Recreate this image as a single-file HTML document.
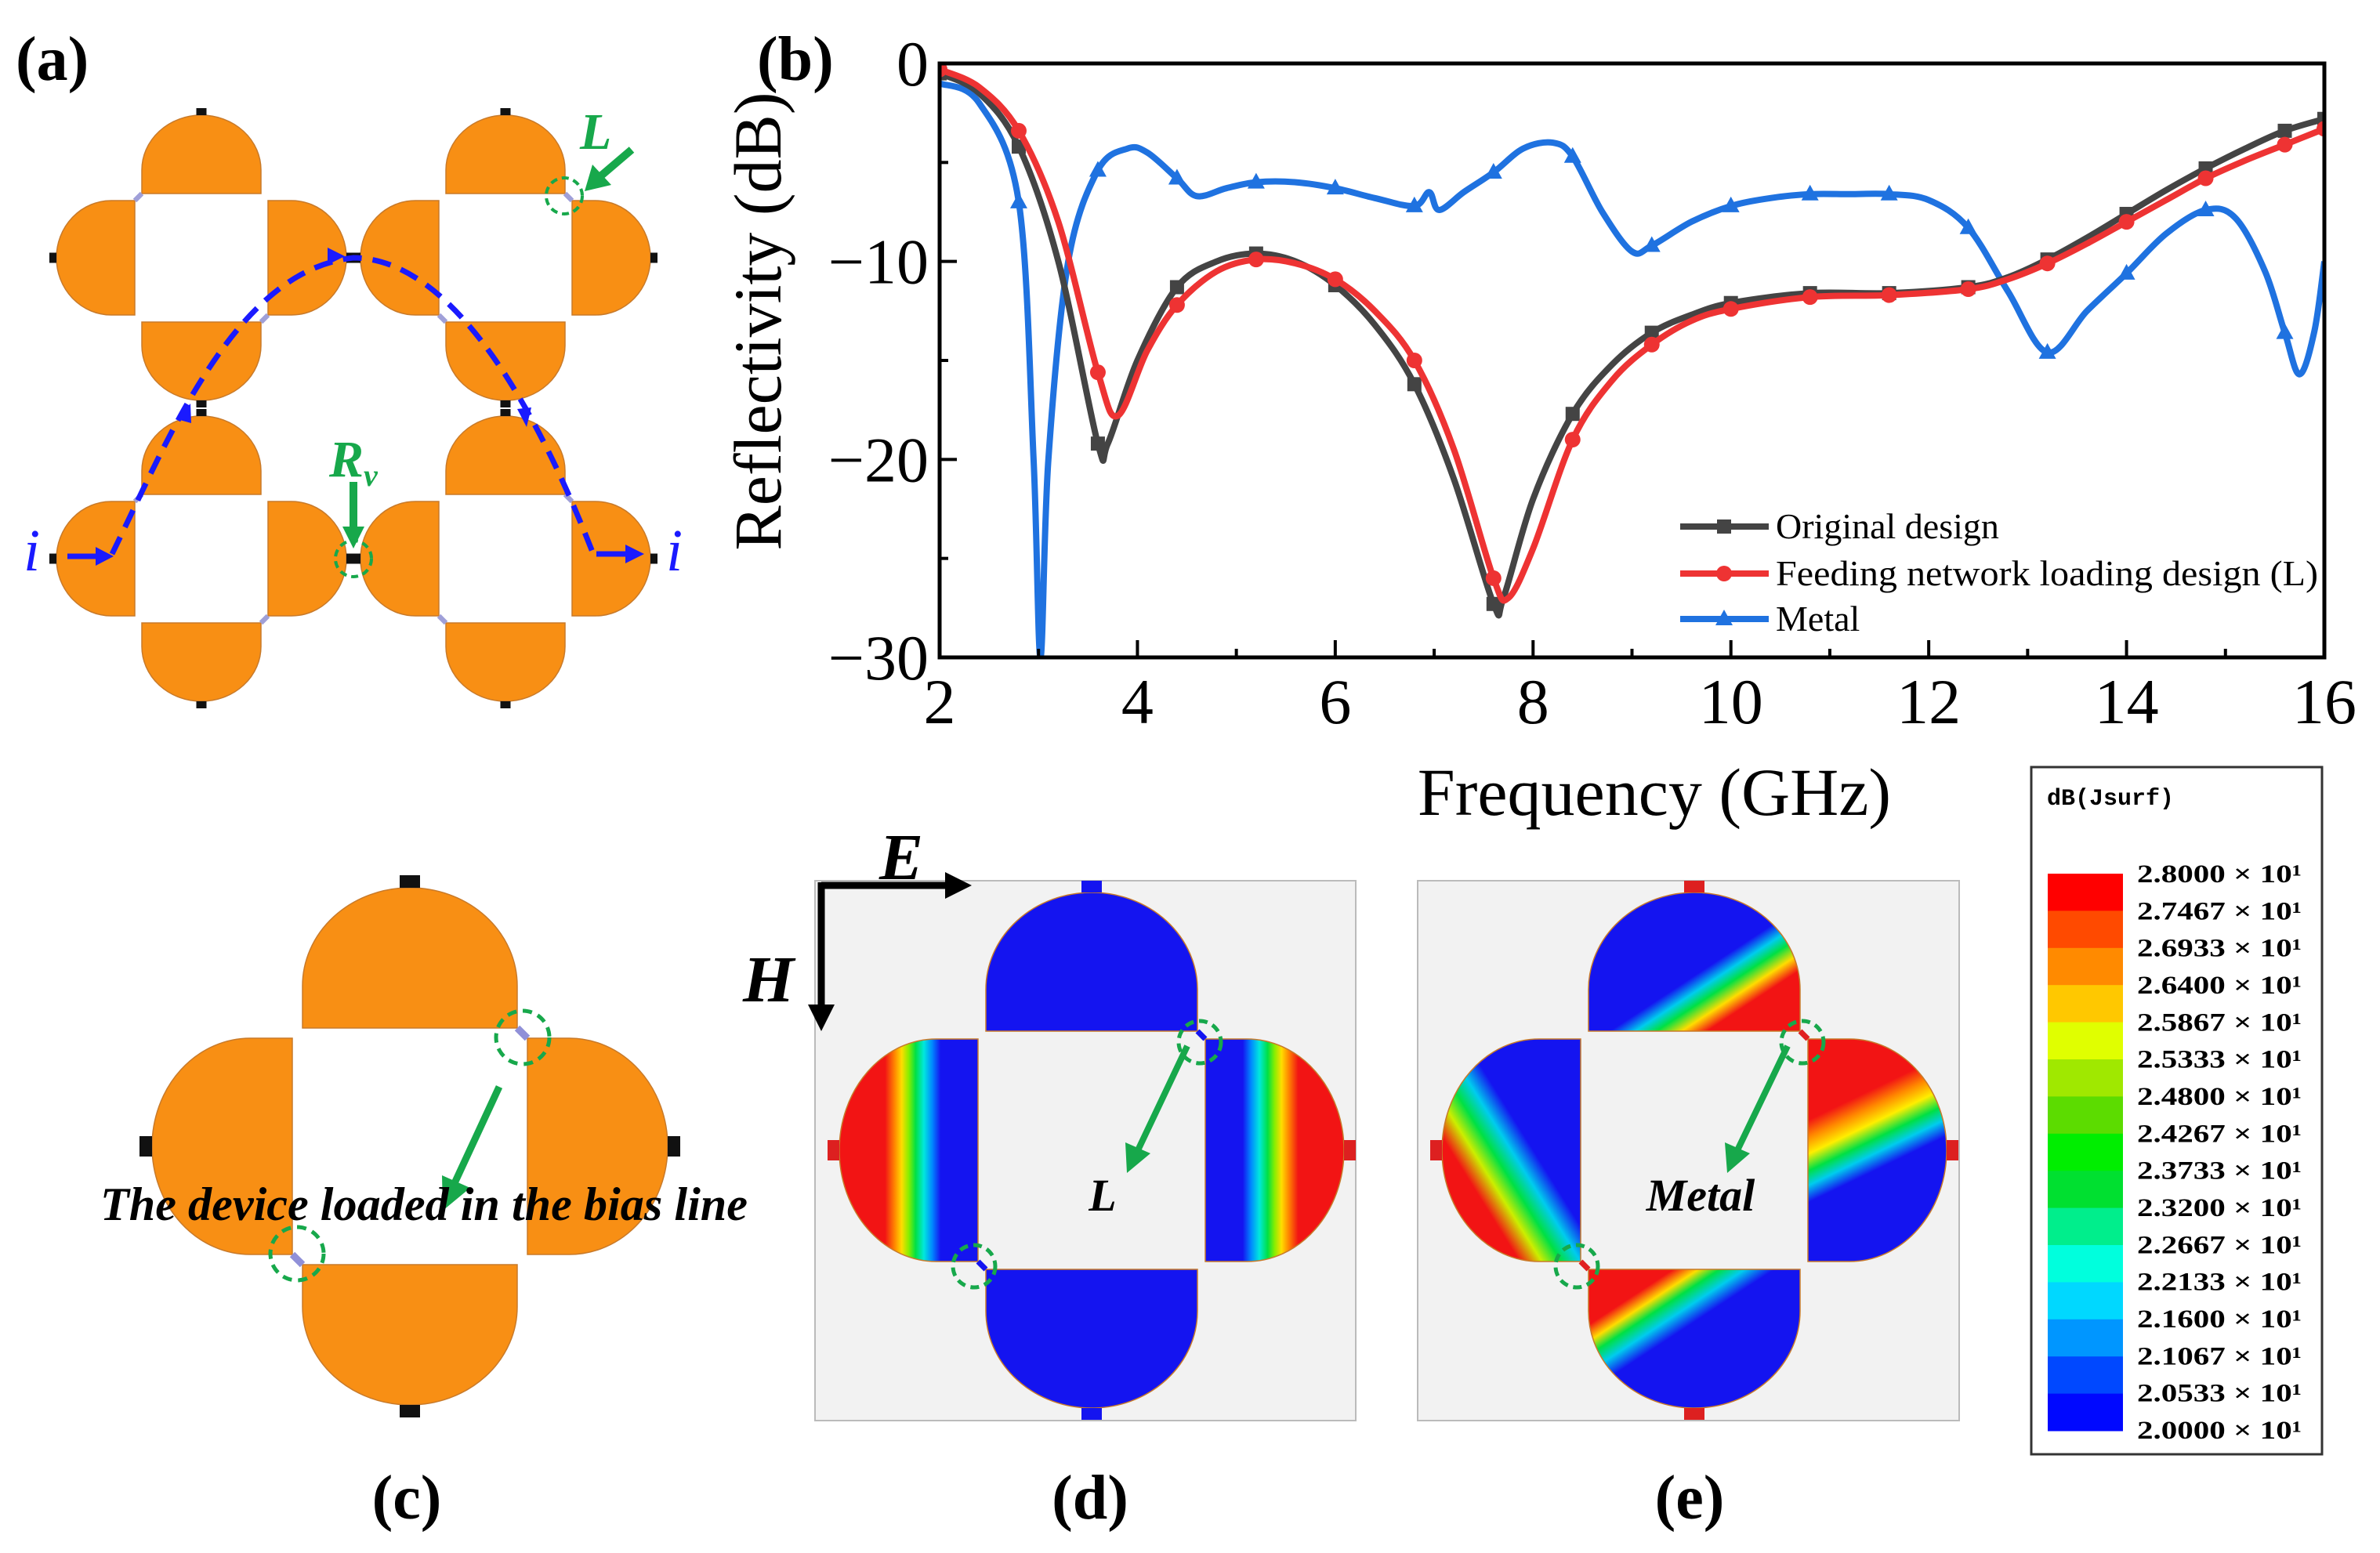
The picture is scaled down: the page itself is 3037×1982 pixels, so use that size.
<!DOCTYPE html>
<html><head><meta charset="utf-8">
<style>
html,body{margin:0;padding:0;background:#fff;}
svg{display:block;}
text{font-family:"Liberation Serif","DejaVu Serif",serif;}
.mono{font-family:"Liberation Mono","DejaVu Sans Mono",monospace;}
</style></head>
<body>
<svg id="fig" width="3037" height="1982" viewBox="0 0 3037 1982" xmlns="http://www.w3.org/2000/svg">
<defs>
 <linearGradient id="gdl" x1="0" y1="0" x2="1" y2="0">
  <stop offset="0" stop-color="#f21414"/><stop offset="0.33" stop-color="#f21414"/><stop offset="0.40" stop-color="#ff8800"/><stop offset="0.45" stop-color="#ffdd00"/><stop offset="0.50" stop-color="#88ee00"/><stop offset="0.55" stop-color="#00e044"/><stop offset="0.61" stop-color="#00e8dd"/><stop offset="0.67" stop-color="#0088ff"/><stop offset="0.73" stop-color="#1414f0"/><stop offset="1" stop-color="#1414f0"/>
 </linearGradient>
 <linearGradient id="gdr" x1="1" y1="0" x2="0" y2="0">
  <stop offset="0" stop-color="#f21414"/><stop offset="0.33" stop-color="#f21414"/><stop offset="0.40" stop-color="#ff8800"/><stop offset="0.45" stop-color="#ffdd00"/><stop offset="0.50" stop-color="#88ee00"/><stop offset="0.55" stop-color="#00e044"/><stop offset="0.61" stop-color="#00e8dd"/><stop offset="0.67" stop-color="#0088ff"/><stop offset="0.73" stop-color="#1414f0"/><stop offset="1" stop-color="#1414f0"/>
 </linearGradient>
 <linearGradient id="get" x1="0" y1="0" x2="1" y2="1">
  <stop offset="0" stop-color="#1414f0"/><stop offset="0.55" stop-color="#1414f0"/><stop offset="0.61" stop-color="#00ccee"/><stop offset="0.66" stop-color="#00e044"/><stop offset="0.72" stop-color="#ffdd00"/><stop offset="0.78" stop-color="#f21414"/><stop offset="1" stop-color="#f21414"/>
 </linearGradient>
 <linearGradient id="gel" x1="1" y1="0" x2="0" y2="1">
  <stop offset="0" stop-color="#1414f0"/><stop offset="0.42" stop-color="#1414f0"/><stop offset="0.50" stop-color="#00ccee"/><stop offset="0.57" stop-color="#00e044"/><stop offset="0.64" stop-color="#ccee00"/><stop offset="0.72" stop-color="#f21414"/><stop offset="1" stop-color="#f21414"/>
 </linearGradient>
 <linearGradient id="ger" x1="0.2" y1="0" x2="0.5" y2="1">
  <stop offset="0" stop-color="#f21414"/><stop offset="0.28" stop-color="#f21414"/><stop offset="0.35" stop-color="#ff8800"/><stop offset="0.42" stop-color="#ffee00"/><stop offset="0.49" stop-color="#00e044"/><stop offset="0.55" stop-color="#00ccee"/><stop offset="0.62" stop-color="#1414f0"/><stop offset="1" stop-color="#1414f0"/>
 </linearGradient>
 <linearGradient id="geb" x1="0" y1="0" x2="1" y2="1">
  <stop offset="0" stop-color="#f21414"/><stop offset="0.2" stop-color="#f21414"/><stop offset="0.26" stop-color="#ffdd00"/><stop offset="0.31" stop-color="#00e044"/><stop offset="0.37" stop-color="#00ccee"/><stop offset="0.44" stop-color="#1414f0"/><stop offset="1" stop-color="#1414f0"/>
 </linearGradient>
</defs>

<!-- panel labels -->
<text x="20" y="102" font-size="80" font-weight="bold">(a)</text>
<text x="966" y="102" font-size="80" font-weight="bold">(b)</text>
<text x="519" y="1938" font-size="80" font-weight="bold" text-anchor="middle">(c)</text>
<text x="1391" y="1938" font-size="80" font-weight="bold" text-anchor="middle">(d)</text>
<text x="2156" y="1938" font-size="80" font-weight="bold" text-anchor="middle">(e)</text>

<g id="panelA"></g>
<g id="panelC"></g>
<rect x="1040" y="1124" width="690" height="689" fill="#f2f2f2" stroke="#bbb" stroke-width="2"/>
<rect x="1809" y="1124" width="691" height="689" fill="#f2f2f2" stroke="#bbb" stroke-width="2"/>
<g id="panelD"></g>
<g id="panelE"></g>

<!-- panel a annotations -->
<g>
 <path d="M143,707 C215,560 300,345 451,329 C590,330 700,560 757,707" fill="none" stroke="#1a1aff" stroke-width="7" stroke-dasharray="24 14"/>
 <line x1="86" y1="710" x2="128" y2="710" stroke="#1a1aff" stroke-width="7"/>
 <polygon points="145,710 122,698 122,722" fill="#1a1aff"/>
 <line x1="761" y1="707" x2="800" y2="707" stroke="#1a1aff" stroke-width="7"/>
 <polygon points="822,707 798,695 798,719" fill="#1a1aff"/>
 <polygon points="243,515 226,535 244,540" fill="#1a1aff"/>
 <polygon points="440,327 418,316 418,338" fill="#1a1aff"/>
 <polygon points="672,545 660,522 678,520" fill="#1a1aff"/>
</g>
<text x="30" y="728" font-size="76" font-style="italic" fill="#1a1aff">i</text>
<text x="850" y="728" font-size="76" font-style="italic" fill="#1a1aff">i</text>
<text x="740" y="190" font-size="66" font-style="italic" font-weight="bold" fill="#17a84b">L</text>
<g>
 <line x1="806" y1="191" x2="765" y2="226" stroke="#17a84b" stroke-width="10"/>
 <polygon points="746,244 756,210 780,236" fill="#17a84b"/>
</g>
<circle cx="720" cy="250" r="23" fill="none" stroke="#17a84b" stroke-width="4" stroke-dasharray="9 6"/>
<text x="420" y="608" font-size="66" font-style="italic" font-weight="bold" fill="#17a84b">R<tspan font-size="40" dy="12">v</tspan></text>
<g>
 <line x1="451" y1="615" x2="451" y2="676" stroke="#17a84b" stroke-width="10"/>
 <polygon points="437,672 465,672 451,700" fill="#17a84b"/>
</g>
<circle cx="451" cy="713" r="23" fill="none" stroke="#17a84b" stroke-width="4" stroke-dasharray="9 6"/>

<!-- panel c annotations -->
<g>
 <line x1="637" y1="1387" x2="580" y2="1510" stroke="#17a84b" stroke-width="9"/>
 <polygon points="565,1545 564,1500 600,1516" fill="#17a84b"/>
</g>
<circle cx="667" cy="1324" r="34" fill="none" stroke="#17a84b" stroke-width="5" stroke-dasharray="12 8"/>
<circle cx="379" cy="1600" r="34" fill="none" stroke="#17a84b" stroke-width="5" stroke-dasharray="12 8"/>
<text x="128" y="1557" font-size="60" font-style="italic" font-weight="bold" textLength="826" lengthAdjust="spacingAndGlyphs">The device loaded in the bias line</text>

<!-- panel d annotations -->
<g>
 <line x1="1048" y1="1130" x2="1212" y2="1130" stroke="#000" stroke-width="9"/>
 <polygon points="1240,1130 1206,1113 1206,1147" fill="#000"/>
 <line x1="1048" y1="1126" x2="1048" y2="1288" stroke="#000" stroke-width="9"/>
 <polygon points="1048,1316 1031,1282 1065,1282" fill="#000"/>
</g>
<text x="1122" y="1122" font-size="84" font-style="italic" font-weight="bold">E</text>
<text x="948" y="1278" font-size="84" font-style="italic" font-weight="bold">H</text>
<g>
 <line x1="1515" y1="1335" x2="1452" y2="1468" stroke="#17a84b" stroke-width="8"/>
 <polygon points="1438,1497 1436,1458 1468,1472" fill="#17a84b"/>
</g>
<circle cx="1531" cy="1330" r="27" fill="none" stroke="#17a84b" stroke-width="5" stroke-dasharray="11 7"/>
<circle cx="1243" cy="1616" r="27" fill="none" stroke="#17a84b" stroke-width="5" stroke-dasharray="11 7"/>
<text x="1407" y="1545" font-size="58" font-style="italic" font-weight="bold" text-anchor="middle">L</text>
<g>
 <line x1="2281" y1="1335" x2="2217" y2="1468" stroke="#17a84b" stroke-width="8"/>
 <polygon points="2204,1497 2201,1458 2233,1472" fill="#17a84b"/>
</g>
<circle cx="2300" cy="1330" r="27" fill="none" stroke="#17a84b" stroke-width="5" stroke-dasharray="11 7"/>
<circle cx="2012" cy="1616" r="27" fill="none" stroke="#17a84b" stroke-width="5" stroke-dasharray="11 7"/>
<text x="2170" y="1545" font-size="58" font-style="italic" font-weight="bold" text-anchor="middle">Metal</text>

<!-- colorbar -->
<rect x="2592" y="979" width="371" height="877" fill="#fff" stroke="#333" stroke-width="3"/>
<text x="2612" y="1027" font-size="30" font-weight="bold" class="mono">dB(Jsurf)</text>
<g id="cbar"></g>

<!-- chart b -->
<g id="chart"></g>
</svg>

<script>
// ---------- chart data ----------
var freqOrig = [2,2.4,2.8,3.2,3.6,3.7,4.0,4.4,4.8,5.2,5.6,6.0,6.4,6.8,7.2,7.6,7.7,8.0,8.4,8.8,9.2,9.6,10,10.8,11.6,12.4,12.8,13.2,13.6,14,14.4,14.8,15.2,15.6,16];
var reflOrig = [-0.5,-1.5,-4.2,-10,-19.2,-19.2,-15,-11.3,-10,-9.6,-10,-11.2,-13.2,-16.2,-21,-27.3,-27,-22,-17.7,-15.2,-13.6,-12.7,-12.1,-11.6,-11.6,-11.3,-10.8,-9.9,-8.8,-7.6,-6.4,-5.3,-4.3,-3.4,-2.8];
var freqLoad = [2,2.4,2.8,3.2,3.6,3.8,4.1,4.4,4.8,5.2,5.6,6.0,6.4,6.8,7.2,7.6,7.75,8.0,8.4,8.8,9.2,9.6,10,10.8,11.6,12.4,12.8,13.2,13.6,14,14.4,14.8,15.2,15.6,16];
var reflLoad = [-0.3,-1.2,-3.4,-8,-15.6,-17.8,-14.5,-12.2,-10.5,-9.9,-10.1,-10.9,-12.5,-15,-19.5,-26,-27,-24.5,-19,-16,-14.2,-13,-12.4,-11.8,-11.7,-11.4,-10.9,-10.1,-9.1,-8.0,-6.9,-5.8,-4.9,-4.1,-3.3];
var freqMetal = [2,2.4,2.8,2.95,3.02,3.1,3.3,3.6,3.9,4.1,4.4,4.6,4.9,5.2,5.6,6.0,6.4,6.8,6.95,7.05,7.3,7.6,7.9,8.2,8.4,8.7,9.0,9.2,9.6,10,10.4,10.8,11.2,11.6,12.0,12.4,12.8,13.2,13.6,14,14.4,14.8,15.1,15.4,15.6,15.75,15.9,16];
var reflMetal = [-1,-2,-7,-20,-30,-20,-10,-5.4,-4.3,-4.5,-5.8,-6.7,-6.3,-6.0,-6.0,-6.3,-6.8,-7.2,-6.5,-7.4,-6.5,-5.5,-4.3,-4.0,-4.7,-7.5,-9.5,-9.2,-8,-7.2,-6.8,-6.6,-6.6,-6.6,-6.9,-8.3,-11.5,-14.6,-12.5,-10.6,-8.6,-7.4,-7.8,-10.5,-13.6,-15.7,-13.5,-10];
var markerFreqs = [2.8,3.6,4.4,5.2,6.0,6.8,7.6,8.4,9.2,10,10.8,11.6,12.4,13.2,14,14.8,15.6];
var xTicks = [2,4,6,8,10,12,14,16];
var yTicks = [0,-10,-20,-30];
var seriesNames = ["Original design","Feeding network loading design (L)","Metal"];
var cbLabels = ["2.8000","2.7467","2.6933","2.6400","2.5867","2.5333","2.4800","2.4267","2.3733","2.3200","2.2667","2.2133","2.1600","2.1067","2.0533","2.0000"];
var cbColors = ["#ff0000","#ff4a00","#ff8a00","#ffc800","#e0ff00","#a0e800","#5cdc00","#00ee00","#00e030","#00ee8c","#00ffdd","#00d8ff","#0096ff","#0048ff","#0008ff"];

var NS = "http://www.w3.org/2000/svg";
function mk(tag, attrs, parent){ var e=document.createElementNS(NS,tag); for(var k in attrs) e.setAttribute(k, attrs[k]); parent.appendChild(e); return e; }

var X0=1199, X1=2966, Y0=81, Y1=839;
function xs(v){ return X0+(v-2)*(X1-X0)/14; }
function ys(v){ return Y0+(0-v)*(Y1-Y0)/30; }

// ---------- unit cells ----------
function cell(parent, cx, cy, hx, hy, inset, depth, fills, termColors, tw, th, corners, cornerColor, prefix){
  var s=depth*0.3, r=depth-s;
  var x1=cx-hx+inset, x2=cx+hx-inset, y1=cy-hy+inset, y2=cy+hy-inset;
  var t=cy-hy, b=cy+hy, l=cx-hx, rr=cx+hx, rx=(x2-x1)/2, ry=(y2-y1)/2;
  var paths=[
    "M"+x1+","+t+" L"+x1+","+(t-s)+" A"+rx+","+r+" 0 0 1 "+x2+","+(t-s)+" L"+x2+","+t+" Z",
    "M"+rr+","+y1+" L"+(rr+s)+","+y1+" A"+r+","+ry+" 0 0 1 "+(rr+s)+","+y2+" L"+rr+","+y2+" Z",
    "M"+x2+","+b+" L"+x2+","+(b+s)+" A"+rx+","+r+" 0 0 1 "+x1+","+(b+s)+" L"+x1+","+b+" Z",
    "M"+l+","+y2+" L"+(l-s)+","+y2+" A"+r+","+ry+" 0 0 1 "+(l-s)+","+y1+" L"+l+","+y1+" Z"];
  var names=["top","right","bottom","left"];
  for(var i=0;i<4;i++){
    var p=mk("path",{d:paths[i],fill:fills[i],stroke:"#c87a2a","stroke-width":1.5},parent);
    
    
  }
  var tp=[[cx-tw/2,t-depth-th],[rr+depth,cy-tw/2],[cx-tw/2,b+depth],[l-depth-th,cy-tw/2]];
  for(var j=0;j<4;j++){
    var horiz=(j%2==0);
    var q=mk("rect",{x:tp[j][0],y:tp[j][1],width:horiz?tw:th,height:horiz?th:tw,fill:termColors[j]},parent);
    
    
  }
  var cs={tr:[x2,t,rr,y1],bl:[l,y2,x1,b],tl:[l,y1,x1,t],br:[rr,y2,x2,b]};
  corners.forEach(function(c){
    var v=cs[c];
    var ln=mk("line",{x1:v[0],y1:v[1],x2:v[2],y2:v[3],stroke:cornerColor,"stroke-width":Math.max(4,inset*0.7)},parent);
    
    
  });
}
var OR="#f88f14", K="#111";
var gA=document.getElementById("panelA");
cell(gA,257,329,85,82,9,100,[OR,OR,OR,OR],[K,K,K,K],13,9,["tl","br"],"#a0a0d8","cell-1");
cell(gA,645,329,85,82,9,100,[OR,OR,OR,OR],[K,K,K,K],13,9,["tr","bl"],"#a0a0d8","cell-2");
cell(gA,257,713,85,82,9,100,[OR,OR,OR,OR],[K,K,K,K],13,9,["tl","br"],"#a0a0d8","cell-3");
cell(gA,645,713,85,82,9,100,[OR,OR,OR,OR],[K,K,K,K],13,9,["tr","bl"],"#a0a0d8","cell-4");
cell(document.getElementById("panelC"),523,1463,150,151,13,179,[OR,OR,OR,OR],[K,K,K,K],26,16,["tr","bl"],"#9090d8","cell-c");
cell(document.getElementById("panelD"),1393,1468,145,152,10,177,["#1414f0","url(#gdr)","#1414f0","url(#gdl)"],["#1414f0","#dd2020","#1414f0","#dd2020"],26,15,["tr","bl"],"#1414f0","cell-d");
cell(document.getElementById("panelE"),2162,1468,145,152,10,177,["url(#get)","url(#ger)","url(#geb)","url(#gel)"],["#dd2020","#dd2020","#dd2020","#dd2020"],26,15,["tr","bl"],"#e02020","cell-e");

// ---------- colorbar ----------
var cb=document.getElementById("cbar");
var sy0=1115, sy1=1826, sh=(sy1-sy0)/cbColors.length;
cbColors.forEach(function(c,i){
  var r=mk("rect",{x:2613,y:sy0+i*sh,width:96,height:sh+0.5,fill:c},cb);
  
  
});
var ly0=1126, ly1=1836, lsp=(ly1-ly0)/(cbLabels.length-1);
cbLabels.forEach(function(t,i){
  var tx=mk("text",{x:2727,y:ly0+i*lsp,"font-size":33,"font-weight":"bold",textLength:210,lengthAdjust:"spacingAndGlyphs"},cb);
  
  
  tx.textContent=t+" \u00d7 10\u00b9";
});

// ---------- chart ----------
var g=document.getElementById("chart");
function curve(xa,ya){
  var pts=xa.map(function(v,i){return [xs(v),ys(ya[i])];});
  var d="M"+pts[0][0].toFixed(1)+","+pts[0][1].toFixed(1);
  for(var i=0;i<pts.length-1;i++){
    var p0=pts[Math.max(0,i-1)],p1=pts[i],p2=pts[i+1],p3=pts[Math.min(pts.length-1,i+2)];
    var c1=[p1[0]+(p2[0]-p0[0])/6,p1[1]+(p2[1]-p0[1])/6];
    var c2=[p2[0]-(p3[0]-p1[0])/6,p2[1]-(p3[1]-p1[1])/6];
    d+=" C"+c1[0].toFixed(1)+","+c1[1].toFixed(1)+" "+c2[0].toFixed(1)+","+c2[1].toFixed(1)+" "+p2[0].toFixed(1)+","+p2[1].toFixed(1);
  }
  return d;
}
function valAt(xa,ya,f){
  for(var i=0;i<xa.length;i++){ if(Math.abs(xa[i]-f)<1e-6) return ya[i]; }
  for(var j=0;j<xa.length-1;j++){ if(f>=xa[j]&&f<=xa[j+1]){ var t=(f-xa[j])/(xa[j+1]-xa[j]); return ya[j]+t*(ya[j+1]-ya[j]); } }
  return ya[ya.length-1];
}
function marker(parent,type,x,y,color,name){
  var m;
  if(type=="sq") m=mk("rect",{x:x-9,y:y-9,width:18,height:18,fill:color},parent);
  else if(type=="ci") m=mk("circle",{cx:x,cy:y,r:10,fill:color},parent);
  else m=mk("polygon",{points:x+","+(y-12)+" "+(x-11)+","+(y+8)+" "+(x+11)+","+(y+8),fill:color},parent);
  
  
  return m;
}
var clip=mk("clipPath",{id:"plotclip"},g);
mk("rect",{x:X0,y:Y0-12,width:X1-X0,height:Y1-Y0+14},clip);
var series=[[freqMetal,reflMetal,"#1f72e0","tr","metal"],[freqOrig,reflOrig,"#444444","sq","original"],[freqLoad,reflLoad,"#ee3333","ci","loaded"]];
series.forEach(function(s){
  var sg=mk("g",{"clip-path":"url(#plotclip)"},g);
  
  
  var p=mk("path",{d:curve(s[0],s[1]),fill:"none",stroke:s[2],"stroke-width":8,"stroke-linejoin":"round"},sg);
  
  
  var mf=(s[4]=="metal")?markerFreqs:[2].concat(markerFreqs).concat([16]);
  mf.forEach(function(f){ marker(sg,s[3],xs(f),ys(valAt(s[0],s[1],f)),s[2],'marker-'+s[4]); });
});
// frame
var fr=mk("rect",{x:X0,y:Y0,width:X1-X0,height:Y1-Y0,fill:"none",stroke:"#000","stroke-width":5},g);


// x ticks
xTicks.forEach(function(v){
  var l=mk("line",{x1:xs(v),y1:Y1,x2:xs(v),y2:Y1-22,stroke:"#000","stroke-width":4},g);
  
  
  var lm=mk("line",{x1:xs(v+1),y1:Y1,x2:xs(v+1),y2:Y1-11,stroke:"#000","stroke-width":4},g);
  
  
  var t=mk("text",{x:xs(v),y:Y1+84,"font-size":82,"text-anchor":"middle"},g);
  
  
  t.textContent=v;
});
yTicks.forEach(function(v){
  var l=mk("line",{x1:X0,y1:ys(v),x2:X0+22,y2:ys(v),stroke:"#000","stroke-width":4},g);
  
  
  if(v>-30){
    var lm=mk("line",{x1:X0,y1:ys(v-5),x2:X0+11,y2:ys(v-5),stroke:"#000","stroke-width":4},g);
    
    
  }
  var t=mk("text",{x:X0-14,y:ys(v)+28,"font-size":82,"text-anchor":"end"},g);
  
  
  t.textContent=(v<0?"\u2212":"")+Math.abs(v);
});
var yt=mk("text",{x:0,y:0,"font-size":86,"text-anchor":"middle",transform:"translate(996,410) rotate(-90)"},g);


yt.textContent="Reflectivity (dB)";
var xt=mk("text",{x:2111,y:1040,"font-size":86,"text-anchor":"middle"},g);


xt.textContent="Frequency (GHz)";
// legend
var legY=[672,732,790];
series.slice().sort(function(a,b){return ["original","loaded","metal"].indexOf(a[4])-["original","loaded","metal"].indexOf(b[4]);}).forEach(function(s,i){
  var lg=mk("g",{},g);
  
  
  mk("line",{x1:2144,y1:legY[i],x2:2257,y2:legY[i],stroke:s[2],"stroke-width":8},lg);
  marker(lg,s[3],2200,legY[i],s[2],'legend-marker');
  var t=mk("text",{x:2266,y:legY[i]+15,"font-size":46},lg);
  t.textContent=seriesNames[i];
  if(i==1){ t.setAttribute("textLength","692"); t.setAttribute("lengthAdjust","spacingAndGlyphs"); }
});
</script>
</body></html>
